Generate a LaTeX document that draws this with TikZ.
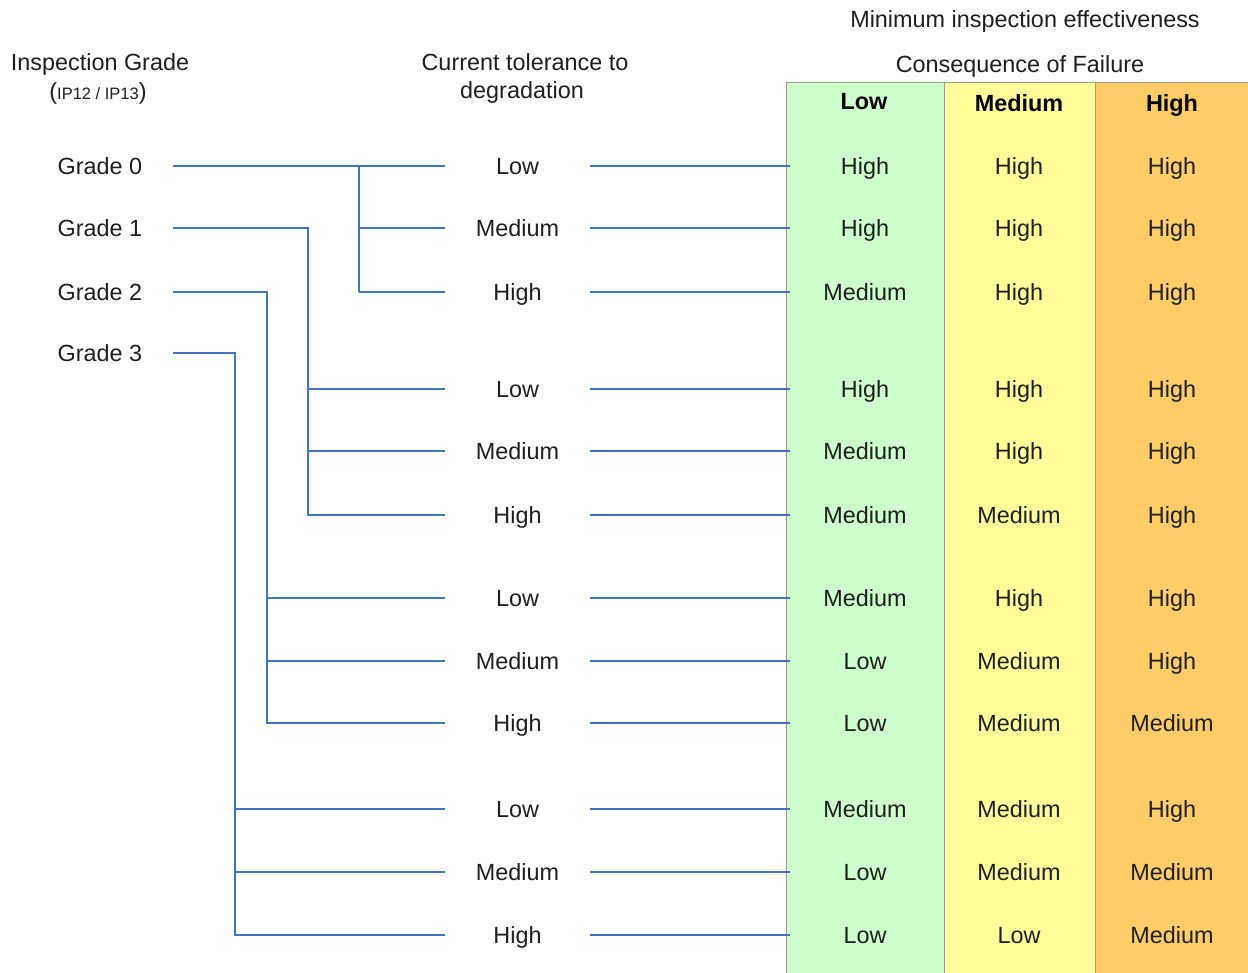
\documentclass[tikz,border=0pt]{standalone}
\usepackage{fontspec}
\setmainfont{Liberation Sans}
\begin{document}
\begin{tikzpicture}[x=1pt,y=-1pt,
  txt/.style={font=\fontsize{23.4}{28}\selectfont, text=black!88, inner sep=0pt,
              text height=18pt, text depth=1pt},
  grade/.style={txt, minimum width=146pt},
  tol/.style={txt, minimum width=145pt},
  cell/.style={txt, minimum width=150pt},
  head/.style={txt, font=\fontsize{23.4}{28}\selectfont\bfseries, text=black},
  link/.style={draw=linkblue, line width=2.8pt},
  col/.style={draw=colborder, line width=0.9pt}]
\definecolor{linkblue}{HTML}{4472C4}
\definecolor{cgreen}{HTML}{CCFFCC}
\definecolor{cyellow}{HTML}{FFFF99}
\definecolor{corange}{HTML}{FFCC66}
\definecolor{colborder}{HTML}{9A9A86}
\useasboundingbox (0,0) rectangle (1248,973);

% consequence columns
\fill[cgreen]  (786,82) rectangle (944,980);
\fill[cyellow] (944,82) rectangle (1095,980);
\fill[corange] (1095,82) rectangle (1252,980);
\draw[col] (786,980) -- (786,82) -- (1252,82);
\draw[col] (944,82) -- (944,980);
\draw[col] (1095,82) -- (1095,980);

% titles
\node[txt] (tmin) at (1025,19) {Minimum inspection effectiveness};
\node[txt] (tcof) at (1020,64) {Consequence of Failure};
\node[txt] (tig) at (100,62) {Inspection Grade};
\node[txt] (tip) at (98,91) {(\fontsize{16.5}{20}\selectfont IP12 / IP13\fontsize{23.4}{28}\selectfont)};
\node[txt] (tct1) at (525,62) {Current tolerance to};
\node[txt] (tct2) at (522,90) {degradation};
\node[head] (hl) at (864,101) {Low};
\node[head] (hm) at (1019,103) {Medium};
\node[head] (hh) at (1172,103) {High};

% inspection grades
\node[grade] (g0) at (100,166) {Grade 0};
\node[grade] (g1) at (100,228) {Grade 1};
\node[grade] (g2) at (100,292) {Grade 2};
\node[grade] (g3) at (100,353) {Grade 3};

% tolerance rows and the effectiveness for each consequence
\foreach \i/\y/\t/\a/\b/\c in {
  1/166/Low/High/High/High,
  2/228/Medium/High/High/High,
  3/292/High/Medium/High/High,
  4/389/Low/High/High/High,
  5/451/Medium/Medium/High/High,
  6/515/High/Medium/Medium/High,
  7/598/Low/Medium/High/High,
  8/661/Medium/Low/Medium/High,
  9/723/High/Low/Medium/Medium,
  10/809/Low/Medium/Medium/High,
  11/872/Medium/Low/Medium/Medium,
  12/935/High/Low/Low/Medium}{
  \node[tol] (t\i) at (517.5,\y) {\t};
  \node[cell] (a\i) at (865,\y) {\a};
  \node[txt] (b\i) at (1019,\y) {\b};
  \node[txt] (c\i) at (1172,\y) {\c};
  \draw[link] (t\i.east) -- (a\i.west);
}

% branching trees from grades to tolerance rows
\coordinate (j0) at (359,166);
\coordinate (j1) at (308,228);
\coordinate (j2) at (267,292);
\coordinate (j3) at (235,353);

\draw[link] (g0.east) -- (t1.west);
\draw[link] (j0) -- (j0 |- t3);
\draw[link] (j0 |- t2) -- (t2.west);
\draw[link] (j0 |- t3) -- (t3.west);

\draw[link] (g1.east) -- (j1) -- (j1 |- t6) -- (t6.west);
\draw[link] (j1 |- t4) -- (t4.west);
\draw[link] (j1 |- t5) -- (t5.west);

\draw[link] (g2.east) -- (j2) -- (j2 |- t9) -- (t9.west);
\draw[link] (j2 |- t7) -- (t7.west);
\draw[link] (j2 |- t8) -- (t8.west);

\draw[link] (g3.east) -- (j3) -- (j3 |- t12) -- (t12.west);
\draw[link] (j3 |- t10) -- (t10.west);
\draw[link] (j3 |- t11) -- (t11.west);
\end{tikzpicture}
\end{document}
